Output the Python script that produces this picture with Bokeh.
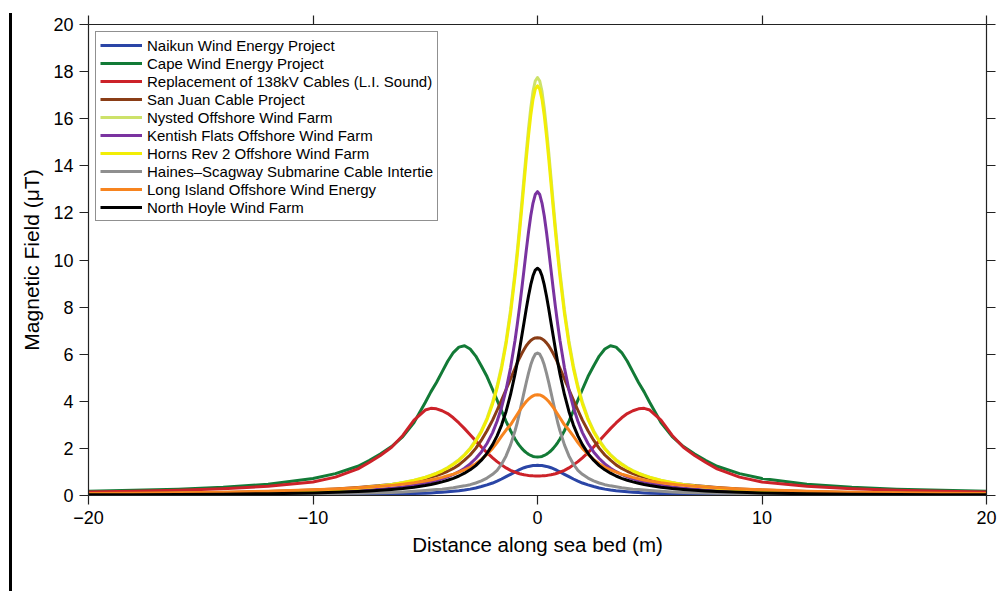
import numpy as np
from bokeh.plotting import figure
from bokeh.layouts import column
from bokeh.models import (LinearAxis, Range1d, FixedTicker, Legend, LegendItem,
                          ColumnDataSource, CustomLabelingPolicy)
from bokeh.embed import file_html
from bokeh.resources import INLINE

# distance from cable (m), one side; the profiles are symmetric about 0
x_half = [0, 0.1, 0.2, 0.3, 0.4, 0.5, 0.6, 0.7, 0.8, 0.9, 1.0, 1.2, 1.4, 1.6, 1.8, 2.0,
          2.25, 2.5, 2.75, 3.0, 3.25, 3.5, 3.75, 4.0, 4.25, 4.5, 4.75, 5.0, 5.5, 6.0,
          6.5, 7.0, 7.5, 8, 9, 10, 12, 14, 16, 18, 20]

naikun = [1.28, 1.278, 1.27, 1.255, 1.235, 1.21, 1.18, 1.14, 1.1, 1.05, 1.0, 0.9, 0.8, 0.7, 0.61, 0.53,
          0.45, 0.38, 0.32, 0.27, 0.23, 0.2, 0.18, 0.16, 0.14, 0.125, 0.11, 0.1, 0.085, 0.072,
          0.063, 0.055, 0.049, 0.044, 0.036, 0.03, 0.022, 0.017, 0.013, 0.011, 0.009]
cape = [1.63, 1.64, 1.66, 1.7, 1.75, 1.82, 1.9, 2.0, 2.12, 2.25, 2.4, 2.75, 3.15, 3.6, 4.05, 4.5,
        5.05, 5.5, 5.92, 6.22, 6.36, 6.3, 6.07, 5.7, 5.25, 4.8, 4.4, 3.95, 3.1, 2.5,
        2.08, 1.76, 1.48, 1.24, 0.93, 0.72, 0.48, 0.35, 0.27, 0.22, 0.18]
li_sound = [0.83, 0.831, 0.835, 0.842, 0.852, 0.865, 0.88, 0.9, 0.925, 0.955, 0.99, 1.07, 1.17, 1.3, 1.44, 1.6,
            1.82, 2.06, 2.32, 2.58, 2.84, 3.08, 3.3, 3.48, 3.6, 3.68, 3.7, 3.63, 3.2, 2.55,
            2.05, 1.7, 1.4, 1.13, 0.78, 0.57, 0.39, 0.29, 0.22, 0.18, 0.15]
san_juan = [6.7, 6.69, 6.65, 6.58, 6.48, 6.36, 6.2, 6.03, 5.84, 5.63, 5.4, 4.95, 4.5, 4.05, 3.62, 3.2,
            2.75, 2.35, 2.0, 1.72, 1.5, 1.3, 1.15, 1.03, 0.93, 0.85, 0.78, 0.72, 0.62, 0.53,
            0.47, 0.42, 0.38, 0.34, 0.28, 0.23, 0.17, 0.13, 0.11, 0.09, 0.08]
nysted = [17.75, 17.6, 17.16, 16.46, 15.58, 14.58, 13.52, 12.44, 11.4, 10.41, 9.5, 7.88, 6.56, 5.5, 4.65, 3.97,
          3.28, 2.75, 2.35, 2.01, 1.74, 1.52, 1.35, 1.19, 1.06, 0.954, 0.861, 0.78, 0.65, 0.55,
          0.47, 0.407, 0.356, 0.313, 0.249, 0.202, 0.141, 0.103, 0.08, 0.063, 0.051]
kentish = [12.9, 12.78, 12.42, 11.88, 11.19, 10.41, 9.59, 8.78, 8.0, 7.27, 6.59, 5.42, 4.49, 3.74, 3.15, 2.67,
           2.21, 1.85, 1.57, 1.34, 1.16, 1.01, 0.892, 0.791, 0.705, 0.633, 0.571, 0.518, 0.431, 0.364,
           0.311, 0.269, 0.235, 0.207, 0.164, 0.133, 0.093, 0.068, 0.052, 0.041, 0.034]
horns_rev = [17.4, 17.25, 16.82, 16.14, 15.27, 14.29, 13.25, 12.2, 11.18, 10.21, 9.31, 7.73, 6.43, 5.39, 4.56, 3.89,
             3.22, 2.7, 2.3, 1.97, 1.71, 1.49, 1.32, 1.17, 1.04, 0.935, 0.844, 0.765, 0.637, 0.539,
             0.461, 0.399, 0.349, 0.307, 0.244, 0.198, 0.138, 0.101, 0.078, 0.062, 0.05]
haines = [6.05, 6.0, 5.82, 5.55, 5.2, 4.8, 4.38, 3.95, 3.52, 3.1, 2.75, 2.15, 1.68, 1.33, 1.07, 0.9,
          0.74, 0.62, 0.53, 0.46, 0.41, 0.37, 0.33, 0.3, 0.27, 0.25, 0.23, 0.21, 0.18, 0.15,
          0.13, 0.12, 0.11, 0.1, 0.08, 0.065, 0.05, 0.04, 0.032, 0.027, 0.023]
long_island = [4.28, 4.27, 4.23, 4.17, 4.09, 3.99, 3.87, 3.74, 3.6, 3.45, 3.3, 3.0, 2.78, 2.52, 2.25, 2.0,
               1.75, 1.53, 1.35, 1.2, 1.09, 0.99, 0.91, 0.84, 0.77, 0.71, 0.66, 0.62, 0.54, 0.48,
               0.43, 0.39, 0.36, 0.33, 0.28, 0.24, 0.18, 0.14, 0.12, 0.1, 0.09]
north_hoyle = [9.65, 9.57, 9.33, 8.95, 8.47, 7.93, 7.35, 6.77, 6.2, 5.66, 5.16, 4.29, 3.57, 2.99, 2.53, 2.16,
               1.79, 1.5, 1.27, 1.09, 0.948, 0.828, 0.73, 0.647, 0.578, 0.519, 0.468, 0.424, 0.354, 0.299,
               0.256, 0.221, 0.193, 0.17, 0.135, 0.11, 0.076, 0.056, 0.043, 0.034, 0.028]

names = ["Naikun Wind Energy Project", "Cape Wind Energy Project",
         "Replacement of 138kV Cables (L.I. Sound)", "San Juan Cable Project",
         "Nysted Offshore Wind Farm", "Kentish Flats Offshore Wind Farm",
         "Horns Rev 2 Offshore Wind Farm", "Haines\u2013Scagway Submarine Cable Intertie",
         "Long Island Offshore Wind Energy", "North Hoyle Wind Farm"]
series = [naikun, cape, li_sound, san_juan, nysted, kentish, horns_rev, haines, long_island, north_hoyle]
colors = ["#2a45a6", "#127a36", "#cc2229", "#8a3d16", "#cde26a", "#7a33a0",
          "#f2ee05", "#8f8f8f", "#f7841f", "#000000"]

x_ticks = [-20, -10, 0, 10, 20]
y_ticks = [0, 2, 4, 6, 8, 10, 12, 14, 16, 18, 20]

x_full = [-v for v in reversed(x_half[1:])] + x_half

def mirror(vals):
    return list(reversed(vals[1:])) + list(vals)

FONT = "Liberation Sans"
AX = "#222222"

# thin black bar: top edge of the outer window frame
bar = figure(width=994, height=3, toolbar_location=None, output_backend="svg",
             min_border=0, background_fill_color="black", border_fill_color="black")
bar.outline_line_color = None
bar.xaxis.visible = False
bar.yaxis.visible = False
bar.xgrid.visible = False
bar.ygrid.visible = False

p = figure(width=991, height=578, x_range=Range1d(-20, 20), y_range=Range1d(0, 20),
           output_backend="svg", toolbar_location=None,
           min_border_left=76, min_border_right=17, min_border_top=11, min_border_bottom=96)
p.styles = {"border-left": "3px solid black"}
p.xgrid.visible = False
p.ygrid.visible = False
p.outline_line_color = None
p.background_fill_color = "white"
p.border_fill_color = "white"

no_labels = CustomLabelingPolicy(code="for (const i of indices) { if (false) yield i }")

def style_axis(ax, ticks, labels=True):
    ax.ticker = FixedTicker(ticks=ticks)
    ax.major_tick_out = 9
    ax.major_tick_in = 0
    ax.minor_tick_line_color = None
    ax.axis_line_color = AX
    ax.axis_line_width = 1.2
    ax.major_tick_line_color = AX
    ax.major_tick_line_width = 1.2
    ax.major_label_text_font = FONT
    ax.major_label_text_color = "black"
    ax.axis_label_text_font = FONT
    ax.axis_label_text_font_style = "normal"
    ax.axis_label_text_color = "black"
    if labels:
        ax.major_label_text_font_size = "18px"
    else:
        ax.major_label_text_font_size = "0px"
        ax.major_label_policy = no_labels
        ax.major_label_standoff = 0

xa = p.xaxis[0]
style_axis(xa, x_ticks)
xa.major_label_overrides = {-20: "\u221220", -10: "\u221210"}
xa.major_label_standoff = 6
xa.axis_label = "Distance along sea bed (m)"
xa.axis_label_text_font_size = "20.5px"
xa.axis_label_standoff = 6

ya = p.yaxis[0]
style_axis(ya, y_ticks)
ya.major_label_standoff = 6
ya.axis_label = "Magnetic Field (\u03bcT)"
ya.axis_label_text_font_size = "21px"
ya.axis_label_standoff = 7

top = LinearAxis()
style_axis(top, x_ticks, labels=False)
p.add_layout(top, "above")
right = LinearAxis()
style_axis(right, y_ticks, labels=False)
p.add_layout(right, "right")

items = []
for name, vals, col in zip(names, series, colors):
    src = ColumnDataSource(dict(x=x_full, y=mirror(vals)))
    r = p.line("x", "y", source=src, line_color=col, line_width=3, line_join="round")
    items.append(LegendItem(label=name, renderers=[r]))

leg = Legend(items=items, location="top_left", margin=7, padding=4, spacing=0,
             label_height=18, glyph_height=18, glyph_width=42, label_standoff=5,
             label_text_font=FONT, label_text_font_size="15px", label_text_color="black",
             border_line_color="#222222", border_line_width=1,
             background_fill_color="white", background_fill_alpha=1.0)
p.add_layout(leg, "center")

page = column(bar, p, spacing=0)
page.styles = {"margin-left": "9px", "margin-top": "10px"}

open("out.html", "w").write(file_html(page, INLINE))
